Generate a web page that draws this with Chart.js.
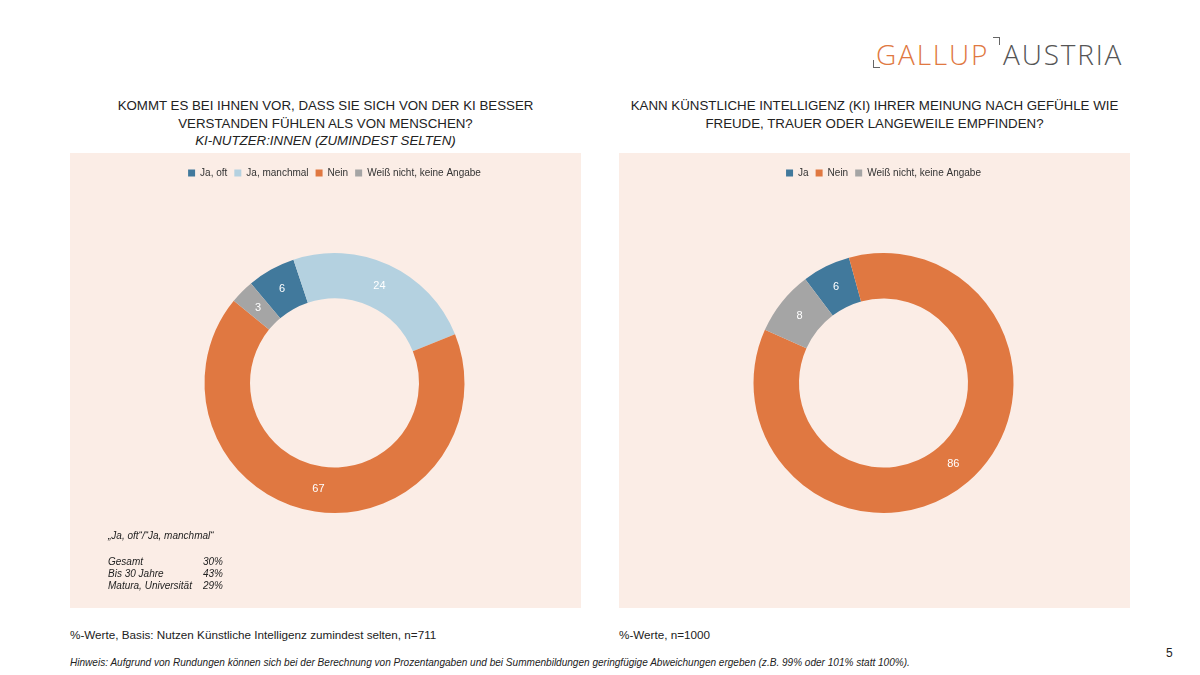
<!DOCTYPE html>
<html>
<head>
<meta charset="utf-8">
<script src="https://cdn.jsdelivr.net/npm/chart.js@4/dist/chart.umd.min.js"></script>
<style>
body { margin: 0; width: 1200px; height: 675px; background: #fff; font-family: "Liberation Sans", Arial, sans-serif; color: #222; position: relative; overflow: hidden; }
.abs { position: absolute; }
.title { text-align: center; font-size: 13.3px; line-height: 17.5px; white-space: nowrap; }
.panel { background: #fbede6; }
.note { font-size: 10px; font-style: italic; color: #222; }
</style>
</head>
<body>

<div class="abs" style="left:876px;top:35px;font-size:28px;letter-spacing:1.8px;font-family:'Open Sans','Liberation Sans';font-weight:300;white-space:nowrap;">
  <span style="color:#e07841;">GALLUP</span><span style="display:inline-block;width:14px;"></span><span style="color:#555;">AUSTRIA</span>
</div>
<div class="abs" style="left:873px;top:60px;width:6px;height:7px;border-left:1.5px solid #666;border-bottom:1.5px solid #666;"></div>
<div class="abs" style="left:993px;top:37px;width:6px;height:7px;border-right:1.5px solid #666;border-top:1.5px solid #666;"></div>

<div class="abs title" style="left:30px;width:591px;top:97px;">KOMMT ES BEI IHNEN VOR, DASS SIE SICH VON DER KI BESSER<br>VERSTANDEN FÜHLEN ALS VON MENSCHEN?<br><i>KI-NUTZER:INNEN (ZUMINDEST SELTEN)</i></div>
<div class="abs title" style="left:579px;width:591px;top:97px;">KANN KÜNSTLICHE INTELLIGENZ (KI) IHRER MEINUNG NACH GEFÜHLE WIE<br>FREUDE, TRAUER ODER LANGEWEILE EMPFINDEN?</div>

<div class="abs panel" style="left:70px;top:153px;width:511px;height:455px;"><canvas id="c1"></canvas></div>
<div class="abs panel" style="left:619px;top:153px;width:511px;height:455px;"><canvas id="c2"></canvas></div>

<div class="abs note" style="left:108px;top:530px;">„Ja, oft“/“Ja, manchmal“</div>
<div class="abs note" id="sideTable" style="left:108px;top:556px;line-height:12px;"></div>

<div class="abs" style="left:70px;top:628px;font-size:11.7px;">%-Werte, Basis: Nutzen Künstliche Intelligenz zumindest selten, n=711</div>
<div class="abs" style="left:619px;top:628px;font-size:11.7px;">%-Werte, n=1000</div>
<div class="abs note" style="left:70px;top:657px;font-size:10.05px;white-space:nowrap;">Hinweis: Aufgrund von Rundungen können sich bei der Berechnung von Prozentangaben und bei Summenbildungen geringfügige Abweichungen ergeben (z.B. 99% oder 101% statt 100%).</div>
<div class="abs" style="left:1166px;top:646px;font-size:12px;">5</div>

<script>
// linke Grafik
const labels1 = ["Ja, oft", "Ja, manchmal", "Nein", "Weiß nicht, keine Angabe"];
const values1 = [6, 24, 67, 3];
const colors1 = ["#41799c", "#b4d1e0", "#e07841", "#a5a5a5"];

// rechte Grafik
const labels2 = ["Ja", "Nein", "Weiß nicht, keine Angabe"];
const values2 = [6, 86, 8];
const colors2 = ["#41799c", "#e07841", "#a5a5a5"];

// Zusatztabelle
const groupNames = ["Gesamt", "Bis 30 Jahre", "Matura, Universität"];
const groupValues = [30, 43, 29];

let tbl = "";
for (let i = 0; i < groupNames.length; i++) {
    tbl += '<div><span style="display:inline-block;width:95px;">' + groupNames[i] + '</span>' + groupValues[i] + '%</div>';
}
document.getElementById("sideTable").innerHTML = tbl;

const valueLabels = {
    id: "valueLabels",
    afterDatasetsDraw(chart) {
        const ctx = chart.ctx;
        const meta = chart.getDatasetMeta(0);
        ctx.save();
        ctx.fillStyle = "#fff";
        ctx.font = "11px 'Liberation Sans', Arial";
        ctx.textAlign = "center";
        ctx.textBaseline = "middle";
        meta.data.forEach((arc, i) => {
            const p = arc.tooltipPosition();
            ctx.fillText(chart.data.datasets[0].data[i], p.x, p.y);
        });
        ctx.restore();
    }
};

function makeChart(id, labels, values, colors, rot) {
    return new Chart(id, {
        type: "doughnut",
        data: {
            labels: labels,
            datasets: [{
                data: values,
                backgroundColor: colors,
                borderWidth: 0
            }]
        },
        options: {
            responsive: true,
            maintainAspectRatio: false,
            animation: false,
            rotation: rot,
            radius: 130,
            cutout: "65%",
            layout: { padding: { top: 8, left: 18, bottom: 30 } },
            plugins: {
                tooltip: { enabled: false },
                legend: {
                    position: "top",
                    labels: {
                        boxWidth: 7,
                        boxHeight: 7,
                        padding: 7,
                        color: "#333",
                        font: { size: 10, family: "'Liberation Sans', Arial" }
                    }
                }
            }
        },
        plugins: [valueLabels]
    });
}

makeChart("c1", labels1, values1, colors1, -40);
makeChart("c2", labels2, values2, colors2, -37);
</script>
</body>
</html>
